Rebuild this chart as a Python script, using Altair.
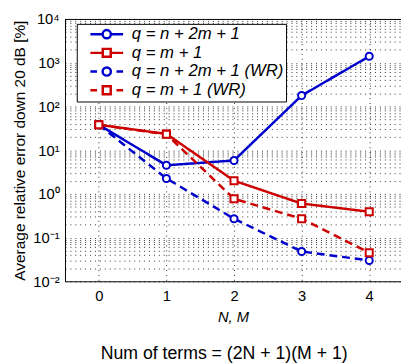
import altair as alt
import pandas as pd

# ---- data ----
NM = [0, 1, 2, 3, 4]
labels = ["q = n + 2m + 1", "q = m + 1", "q = n + 2m + 1 (WR)", "q = m + 1 (WR)"]
s_full = [38, 4.5, 5.8, 177, 1400]
s_m1 = [38, 23.5, 2.0, 0.6, 0.39]
s_full_wr = [38, 2.25, 0.27, 0.048, 0.030]
s_m1_wr = [38, 23, 0.77, 0.27, 0.045]
series_values = [s_full, s_m1, s_full_wr, s_m1_wr]

BLUE = "#0000cc"
RED = "#cc0000"
colors = [BLUE, RED, BLUE, RED]
marker = ["circle", "square", "circle", "square"]
dashes = [[1, 0], [1, 0], [8, 5], [8, 5]]

# legend symbols: line + marker drawn as one path
circ = "M0.93,0A0.93,0.93,0,1,1,-0.93,0A0.93,0.93,0,1,1,0.93,0Z"
sq = "M-0.9,-0.9H0.9V0.9H-0.9Z"
legend_shapes = [
    "M-3.7,0H-0.93M0.93,0H3.7" + circ,
    "M-3.7,0H-0.9M0.9,0H3.7" + sq,
    "M-3.7,0H-2.2M2.2,0H3.7" + circ,
    "M-3.7,0H-2.2M2.2,0H3.7" + sq,
]

y_ticks = [k * 10.0 ** e for e in range(-2, 4) for k in range(1, 10)] + [10000.0]
y_ticks = [float(f"{v:.6g}") for v in y_ticks]

FONT = "Liberation Sans"
W, H = 342, 267

xscale = alt.Scale(domain=[-0.5, 4.47], nice=False, zero=False)
yscale = alt.Scale(type="log", domain=[0.01, 10000], nice=False)

label_expr = (
    "abs(log(datum.value)/LN10 - round(log(datum.value)/LN10)) < 0.001 ? "
    "'10' + ['⁻²','⁻¹','⁰','¹','²','³','⁴'][round(log(datum.value)/LN10)+2] : ''"
)

x_axis = alt.Axis(values=NM, title="N, M", titleFontStyle="italic",
                  labelPadding=8, titlePadding=6, titleFontSize=15)
y_axis = alt.Axis(values=y_ticks, labelExpr=label_expr,
                  title="Average relative error down 20 dB [%]",
                  labelPadding=6, titlePadding=6, titleFontSize=15.7)

layers = []
for i, (lab, vals) in enumerate(zip(labels, series_values)):
    df = pd.DataFrame({"NM": NM, "val": vals, "series": lab})
    base = alt.Chart(df).encode(
        x=alt.X("NM:Q", scale=xscale, axis=x_axis),
        y=alt.Y("val:Q", scale=yscale, axis=y_axis),
    )
    layers.append(base.mark_line(color=colors[i], strokeWidth=2.5, strokeDash=dashes[i]))
    layers.append(base.mark_point(shape=marker[i], filled=True, fill="white",
                                  stroke=colors[i], strokeWidth=2, size=52,
                                  opacity=1))

# top frame line of the axes box
frame_df = pd.DataFrame({"k": [0]})
top_rule = alt.Chart(frame_df).mark_rule(color="black", strokeWidth=1).encode(
    x=alt.value(0), x2=alt.value(W), y=alt.value(0.5)
)
layers.append(top_rule)

# legend-only layer (its marks are filtered out)
leg_df = pd.DataFrame({"series": labels})
legend_layer = alt.Chart(leg_df).mark_point(filled=False, strokeWidth=2.5, opacity=1).encode(
    color=alt.Color("series:N", scale=alt.Scale(domain=labels, range=colors),
                    legend=alt.Legend(title=None, orient="none", legendX=12, legendY=5,
                                      padding=2, strokeColor="black", fillColor="white",
                                      symbolSize=81, symbolStrokeWidth=2.5,
                                      labelFont=FONT, labelFontSize=17,
                                      labelFontStyle="italic", labelColor="black",
                                      rowPadding=0, symbolOffset=20, labelOffset=17,
                                      labelLimit=0)),
    shape=alt.Shape("series:N", scale=alt.Scale(domain=labels, range=legend_shapes)),
).transform_filter("false")
layers.append(legend_layer)

chart = alt.layer(*layers).properties(
    width=W, height=H,
    autosize=alt.AutoSizeParams(type="none"),
    padding={"left": 58, "top": 8, "right": 0, "bottom": 80},
    title=alt.TitleParams("Num of terms = (2N + 1)(M + 1)", orient="bottom",
                          fontSize=18, fontWeight="normal", font=FONT,
                          color="black", offset=21, dx=-9),
).configure(font=FONT).configure_view(stroke=None).configure_axis(
    grid=True, gridDash=[1, 4], gridColor="#333", ticks=False,
    domainColor="black", domainWidth=1, labelFontSize=15, labelColor="black",
    labelFont=FONT, labelOverlap=False, labelFlush=False,
    titleFontWeight="normal", titleFontSize=15, titleFont=FONT, titleColor="black",
)

chart.save("out.html", embed_options={"renderer": "svg", "actions": False})
